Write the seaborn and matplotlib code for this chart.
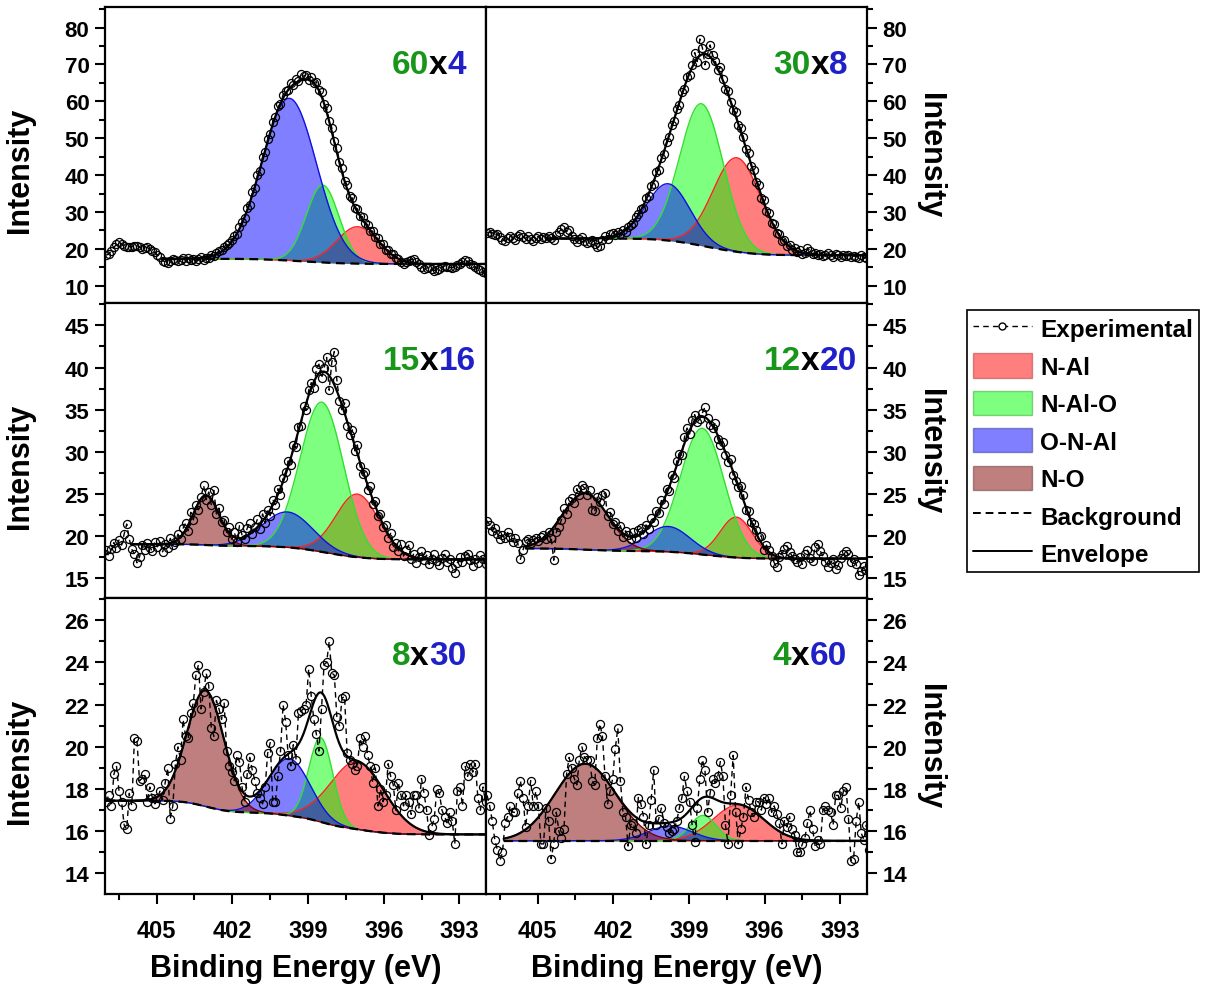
import numpy as np
import matplotlib
matplotlib.use("Agg")
import matplotlib.pyplot as plt
import seaborn as sns
from matplotlib.lines import Line2D
from matplotlib.patches import Patch
from matplotlib.ticker import MultipleLocator
from matplotlib.offsetbox import TextArea, HPacker, AnchoredOffsetbox

# binding energy grid of the scans (eV), high -> low
energy = np.linspace(407.0, 391.86, 150)

# experimental N 1s intensities
exp_60x4 = [
    18.3, 18.6, 19.4, 20.4, 21.2, 21.8, 21.3, 20.8, 20.4, 20.6,
    20.6, 20.8, 20.9, 20.5, 20.0, 20.3, 20.4, 19.9, 19.3, 19.1,
    18.2, 17.7, 16.8, 16.5, 16.3, 16.8, 17.2, 16.9, 16.6, 17.1,
    17.4, 16.8, 17.6, 17.0, 17.2, 16.6, 17.3, 17.9, 17.1, 17.5,
    17.6, 18.4, 18.1, 18.9, 19.4, 19.8, 20.6, 21.1, 21.6, 22.4,
    23.4, 23.9, 25.9, 27.4, 28.3, 31.1, 32.0, 35.3, 36.5, 39.9,
    41.2, 44.9, 46.3, 49.8, 51.1, 54.5, 55.7, 58.6, 59.2, 61.8,
    62.7, 63.1, 64.9, 64.4, 66.0, 65.4, 67.3, 66.8, 67.2, 65.9,
    66.6, 65.1, 65.3, 63.0, 62.4, 59.4, 58.3, 54.6, 52.9, 49.2,
    47.3, 43.6, 41.9, 38.4, 37.4, 34.3, 33.8, 31.2, 30.9, 29.0,
    28.7, 27.0, 26.6, 24.9, 24.8, 23.1, 22.9, 21.4, 21.2, 19.8,
    19.7, 18.5, 18.7, 17.6, 17.3, 16.4, 16.0, 16.5, 16.8, 17.1,
    17.2, 16.5, 15.8, 15.0, 14.5, 14.8, 15.0, 14.6, 14.1, 14.4,
    14.6, 15.0, 15.4, 15.1, 15.0, 14.9, 15.2, 15.6, 15.9, 16.4,
    17.0, 16.6, 15.9, 15.5, 15.0, 14.6, 14.2, 13.8, 13.5, 13.3,
]
exp_30x8 = [
    24.3, 24.6, 24.0, 23.7, 24.1, 23.2, 22.5, 22.1, 22.9, 23.5,
    23.0, 22.4, 23.6, 24.1, 23.3, 22.8, 23.5, 22.6, 22.2, 23.0,
    23.4, 22.6, 23.1, 22.9, 23.6, 23.0, 22.4, 23.8, 24.6, 25.3,
    25.9, 24.7, 25.0, 23.6, 22.8, 21.9, 22.6, 23.2, 22.0, 21.6,
    21.9, 22.5, 21.2, 20.4, 20.9, 22.3, 23.5, 22.7, 23.9, 24.2,
    23.8, 24.6, 23.9, 25.0, 24.7, 26.0, 26.6, 27.0, 28.7, 29.4,
    30.9, 31.2, 33.8, 34.4, 37.0, 37.6, 40.8, 41.5, 44.6, 45.7,
    48.9, 50.2, 53.6, 54.7, 58.0, 59.1, 62.5, 63.4, 66.5, 67.2,
    69.9, 73.2, 70.8, 76.9, 74.5, 69.9, 72.8, 75.3, 72.5, 71.0,
    68.4, 69.3, 66.1, 63.4, 62.9, 59.7, 57.6, 57.1, 53.5, 52.7,
    50.4, 47.0, 45.9, 42.6, 41.5, 38.2, 37.4, 33.9, 33.3, 30.2,
    29.8, 27.1, 26.7, 24.3, 24.1, 22.2, 22.5, 20.8, 21.1, 19.7,
    20.1, 19.2, 19.6, 18.5, 19.0, 20.3, 19.5, 18.7, 18.9, 18.2,
    18.6, 18.1, 18.4, 18.9, 18.3, 17.9, 18.5, 18.2, 17.8, 18.4,
    18.0, 18.3, 17.7, 18.1, 17.9, 17.6, 18.2, 17.8, 17.5, 18.1,
]
exp_15x16 = [
    18.3, 17.6, 18.4, 19.2, 18.6, 19.5, 18.9, 20.2, 21.4, 19.6,
    18.4, 17.8, 16.8, 17.5, 18.9, 18.3, 19.1, 18.6, 18.2, 19.3,
    18.7, 19.4, 18.1, 19.0, 18.6, 19.7, 18.9, 19.3, 20.2, 19.6,
    20.9, 21.5, 20.6, 22.8, 21.9, 23.7, 23.1, 24.6, 26.0, 24.3,
    25.2, 23.7, 25.4, 22.6, 23.3, 21.6, 21.9, 20.4, 21.0, 19.6,
    20.4, 19.3, 21.2, 20.1, 19.6, 20.9, 21.5, 20.2, 21.1, 22.0,
    20.8, 22.6, 21.5, 23.1, 22.4, 24.3, 23.7, 25.6, 24.9, 26.9,
    27.6, 28.9, 28.4, 30.8, 30.5, 32.9, 33.1, 35.4, 34.9, 37.3,
    38.2, 37.6, 39.8, 40.4, 38.7, 39.9, 41.2, 37.3, 40.6, 41.9,
    38.5, 36.0, 34.9, 35.8, 33.1, 32.0, 32.6, 30.1, 30.8, 28.3,
    27.4, 27.6, 25.5, 25.9, 23.8, 24.1, 22.3, 22.6, 21.0, 21.3,
    19.8, 20.3, 18.7, 19.1, 18.2, 19.0, 17.6, 18.3, 18.9, 17.2,
    17.9, 16.8, 17.5, 18.2, 17.1, 17.7, 16.6, 17.3, 17.9, 17.0,
    16.5, 17.4, 17.8, 16.9, 17.2, 16.2, 15.6, 16.8, 17.5, 16.9,
    17.6, 17.9, 17.1, 16.4, 17.3, 16.8, 17.7, 17.2, 16.6, 17.0,
]
exp_12x20 = [
    21.8, 21.3, 20.6, 20.9, 20.2, 19.6, 20.1, 19.8, 20.4, 19.9,
    19.3, 19.7, 19.1, 17.2, 18.3, 19.4, 19.6, 19.1, 19.5, 19.8,
    19.4, 19.9, 20.1, 19.6, 20.5, 19.8, 17.1, 20.4, 21.1, 21.9,
    23.3, 22.6, 24.1, 24.5, 23.9, 25.6, 24.8, 26.0, 25.7, 24.9,
    25.4, 23.1, 22.9, 24.6, 24.0, 24.8, 25.1, 22.3, 22.8, 21.4,
    21.7, 20.6, 21.2, 19.9, 20.6, 20.1, 19.6, 20.4, 19.8, 20.7,
    20.9, 20.2, 21.3, 20.8, 22.1, 21.6, 23.0, 22.7, 24.2, 23.8,
    25.6, 25.3, 27.2, 26.9, 28.9, 29.7, 29.6, 31.7, 32.8, 32.1,
    33.8, 34.4, 33.5, 33.9, 34.6, 35.3, 34.0, 33.2, 32.8, 33.4,
    31.5, 30.8, 31.2, 29.6, 28.8, 29.1, 27.2, 26.5, 25.8, 25.9,
    24.9, 23.1, 23.0, 21.6, 21.4, 20.7, 19.9, 20.0, 18.3, 18.9,
    18.3, 17.6, 16.8, 16.3, 17.5, 17.9, 18.4, 18.8, 18.1, 17.6,
    17.2, 16.9, 17.5, 16.6, 17.8, 18.3, 17.4, 17.0, 18.7, 19.0,
    18.2, 17.6, 16.9, 16.3, 16.8, 17.2, 16.0, 16.5, 17.4, 17.9,
    18.2, 17.8, 16.9, 17.3, 16.6, 15.3, 15.8, 16.4, 15.9, 16.5,
]
exp_8x30 = [
    17.4, 17.7, 17.2, 18.7, 19.1, 17.9, 17.4, 16.3, 16.1, 17.8,
    17.2, 20.4, 20.3, 18.4, 18.5, 18.7, 17.4, 18.1, 17.6, 17.3,
    17.6, 17.9, 17.5, 18.3, 19.0, 16.6, 17.2, 19.2, 20.0, 19.4,
    21.3, 20.5, 20.4, 21.6, 22.1, 23.4, 23.9, 21.8, 22.6, 23.5,
    22.9, 20.9, 20.5, 22.2, 21.8, 21.3, 22.1, 19.8, 19.1, 18.8,
    18.4, 19.6, 19.3, 18.1, 17.4, 18.7, 19.5, 18.9, 18.4, 17.8,
    17.6, 17.3, 18.1, 19.7, 20.2, 17.4, 17.4, 18.6, 19.8, 22.0,
    21.2, 19.6, 19.1, 20.1, 19.4, 21.6, 21.7, 21.8, 22.0, 23.7,
    22.4, 21.3, 20.6, 19.8, 21.8, 23.9, 24.0, 25.0, 23.5, 23.4,
    21.4, 21.0, 22.3, 22.4, 19.7, 19.4, 19.2, 18.9, 19.1, 20.4,
    20.0, 20.5, 19.6, 19.1, 18.3, 19.0, 17.2, 18.0, 17.4, 17.7,
    19.2, 18.6, 18.2, 17.0, 18.3, 17.7, 17.2, 17.7, 17.4, 16.8,
    17.7, 17.7, 17.1, 18.5, 17.8, 17.0, 15.8, 16.2, 16.6, 18.0,
    17.8, 17.0, 16.7, 16.4, 16.9, 16.5, 15.4, 17.9, 18.1, 17.2,
    19.1, 18.6, 19.2, 18.8, 19.2, 17.6, 17.0, 18.1, 17.4, 17.6,
]
exp_4x60 = [
    17.7, 17.2, 16.5, 15.6, 15.1, 14.6, 15.0, 16.4, 16.7, 17.2,
    16.9, 16.9, 17.8, 18.4, 17.6, 16.2, 17.2, 18.4, 17.2, 17.9,
    17.2, 15.4, 15.4, 17.1, 16.5, 14.7, 15.4, 16.9, 16.0, 15.7,
    16.1, 18.7, 19.5, 19.0, 18.5, 18.2, 19.4, 20.0, 19.5, 19.4,
    19.4, 18.4, 18.2, 20.4, 21.1, 20.5, 18.6, 17.3, 17.9, 18.5,
    19.9, 20.9, 18.4, 16.9, 16.7, 15.3, 16.3, 16.4, 15.9, 17.6,
    17.3, 16.7, 15.4, 16.3, 17.5, 18.9, 16.3, 16.6, 17.1, 16.4,
    16.2, 15.9, 16.0, 16.1, 16.5, 17.1, 17.6, 18.6, 17.9, 17.4,
    16.3, 15.5, 17.1, 18.5, 19.4, 18.9, 16.9, 17.8, 18.5, 18.3,
    18.6, 19.3, 18.6, 16.3, 15.4, 17.7, 19.6, 16.9, 15.4, 16.1,
    16.7, 18.1, 17.5, 16.9, 16.7, 17.4, 17.4, 17.0, 17.6, 17.3,
    17.6, 16.9, 17.2, 16.8, 16.4, 15.4, 16.5, 16.2, 16.7, 16.1,
    15.8, 15.0, 15.0, 15.4, 15.7, 16.4, 17.0, 16.1, 15.3, 15.6,
    15.4, 17.0, 17.2, 17.0, 16.9, 16.3, 17.7, 17.7, 17.1, 17.9,
    18.1, 16.6, 14.6, 14.7, 16.5, 17.4, 15.9, 15.6, 16.3, 15.1,
]

samples = ["60x4", "30x8", "15x16", "12x20", "8x30", "4x60"]

# fitted components per sample: centre (eV), FWHM (eV), height above background
n_al_pos = [397.04, 397.10, 397.04, 397.12, 397.04, 397.04]
n_al_fwhm = [1.93, 2.23, 2.03, 1.52, 2.54, 2.34]
n_al_height = [10.0, 25.5, 7.5, 4.8, 3.2, 1.7]

n_al_o_pos = [398.42, 398.50, 398.45, 398.47, 398.49, 398.44]
n_al_o_fwhm = [1.52, 2.03, 2.03, 2.03, 1.12, 1.22]
n_al_o_height = [21.0, 38.5, 17.8, 15.0, 4.0, 1.2]

o_n_al_pos = [399.74, 399.82, 399.81, 399.82, 399.74, 399.75]
o_n_al_fwhm = [2.54, 2.03, 2.34, 2.03, 1.93, 2.03]
o_n_al_height = [44.0, 15.4, 4.2, 3.0, 2.7, 0.7]

n_o_pos = [403.0, 403.0, 403.04, 403.11, 403.06, 403.11]
n_o_fwhm = [1.5, 1.5, 1.22, 2.13, 1.73, 2.84]
n_o_height = [0.0, 0.0, 5.9, 6.7, 5.5, 3.65]

# Shirley background end levels and fit window start (eV)
bg_high = [17.3, 22.8, 19.0, 18.5, 17.45, 15.55]
bg_low = [15.9, 18.3, 17.2, 17.3, 15.85, 15.55]
fit_start = [404.76, 404.66, 405.98, 405.48, 407.0, 406.34]

experimental = [exp_60x4, exp_30x8, exp_15x16, exp_12x20, exp_8x30, exp_4x60]

# styling
sns.set_style("ticks")
plt.rcParams["font.family"] = ["Liberation Sans", "DejaVu Sans"]
plt.rcParams["font.weight"] = "bold"
plt.rcParams["axes.labelweight"] = "bold"
for key in ["text.color", "axes.labelcolor", "xtick.color", "ytick.color", "axes.edgecolor"]:
    plt.rcParams[key] = "black"

comp_style = [
    # label, fill, edge line, legend edge
    ("N-Al", "#ff0000", "#ff2020", "#b03030"),
    ("N-Al-O", "#00ff00", "#30e030", "#30a030"),
    ("O-N-Al", "#0000ff", "#1010e0", "#303090"),
    ("N-O", "#800000", "#800000", "#603030"),
]
comp_params = [
    (n_al_pos, n_al_fwhm, n_al_height),
    (n_al_o_pos, n_al_o_fwhm, n_al_o_height),
    (o_n_al_pos, o_n_al_fwhm, o_n_al_height),
    (n_o_pos, n_o_fwhm, n_o_height),
]

row_ylim = [(5.4, 85.5), (12.6, 47.7), (13.05, 27.05)]
row_major = [10, 5, 2]
row_minor = [5, 2.5, 1]
label_x = [0.948, 0.950, 0.974, 0.974, 0.948, 0.947]
GREEN = "#17961a"
BLUE = "#2020c8"


def gauss(x, c, w, h):
    return h * np.exp(-4 * np.log(2) * (x - c) ** 2 / w ** 2)


fig = plt.figure(figsize=(12.09, 9.87), dpi=100)
gs = fig.add_gridspec(3, 2, left=0.0868, right=0.7169, top=0.9916,
                      bottom=0.0937, wspace=0, hspace=0)

for i, name in enumerate(samples):
    row, col = divmod(i, 2)
    ax = fig.add_subplot(gs[row, col])

    xf = np.linspace(fit_start[i], 391.9, 600)
    comps = []
    for pos, fwhm, height in comp_params:
        comps.append(gauss(xf, pos[i], fwhm[i], height[i]))
    total = np.sum(comps, axis=0)
    cum = np.cumsum(total[::-1])[::-1]
    bg = bg_low[i] + (bg_high[i] - bg_low[i]) * cum / cum[0]

    for (lab, fill, edge, _), comp, (pos, fwhm, height) in zip(comp_style, comps, comp_params):
        if height[i] <= 0:
            continue
        ax.fill_between(xf, bg, bg + comp, color=fill, alpha=0.5, lw=0, zorder=1)
        sns.lineplot(x=xf, y=bg + comp, ax=ax, color=edge, lw=1.0, sort=False,
                     estimator=None, zorder=2)

    sns.lineplot(x=energy, y=experimental[i], ax=ax, color="black", lw=1.0,
                 linestyle=(0, (4, 3)), marker="o", markersize=5.8,
                 markerfacecolor="none", markeredgecolor="black",
                 markeredgewidth=0.9, sort=False, estimator=None, zorder=3)
    sns.lineplot(x=xf, y=bg, ax=ax, color="black", lw=1.6, linestyle=(0, (4, 2.5)),
                 sort=False, estimator=None, zorder=4)
    sns.lineplot(x=xf, y=bg + total, ax=ax, color="black", lw=1.6, sort=False,
                 estimator=None, zorder=5)

    ax.set_xlim(407.05, 391.95)
    ax.set_ylim(*row_ylim[row])
    ax.xaxis.set_major_locator(MultipleLocator(3))
    ax.xaxis.set_minor_locator(MultipleLocator(1.5))
    ax.yaxis.set_major_locator(MultipleLocator(row_major[row]))
    ax.yaxis.set_minor_locator(MultipleLocator(row_minor[row]))

    for sp in ax.spines.values():
        sp.set_visible(True)
        sp.set_linewidth(1.6)
        sp.set_color("black")
    ax.tick_params(which="both", direction="out", width=1.5, labelsize=16,
                   colors="black")
    ax.tick_params(which="major", length=7.2)
    ax.tick_params(which="minor", length=4.3)
    if row == 2:
        ax.tick_params(axis="x", which="both", bottom=True, top=False,
                       labelbottom=True, labelsize=17, pad=11)
        ax.set_xlabel("Binding Energy (eV)", fontsize=22, labelpad=8)
    else:
        ax.tick_params(axis="x", which="both", bottom=False, top=False,
                       labelbottom=False)
        ax.set_xlabel("")
    if col == 0:
        ax.tick_params(axis="y", which="both", left=True, right=False,
                       labelleft=True, labelright=False, pad=4)
        ax.set_ylabel("Intensity", fontsize=22)
        ax.yaxis.set_label_coords(-0.183, 0.45)
    else:
        ax.tick_params(axis="y", which="both", left=False, right=True,
                       labelleft=False, labelright=True, pad=4)
        ax.yaxis.set_label_position("right")
        ax.set_ylabel("Intensity", fontsize=22, rotation=270, va="bottom")
        ax.yaxis.set_label_coords(1.127, 0.5)

    first, second = name.split("x")
    parts = [TextArea(first, textprops=dict(color=GREEN, fontsize=24, fontweight="bold")),
             TextArea("x", textprops=dict(color="black", fontsize=24, fontweight="bold")),
             TextArea(second, textprops=dict(color=BLUE, fontsize=24, fontweight="bold"))]
    box = HPacker(children=parts, align="baseline", pad=0, sep=0)
    anchored = AnchoredOffsetbox(loc="center right", child=box, pad=0, borderpad=0,
                                 frameon=False, bbox_to_anchor=(label_x[i], 0.805),
                                 bbox_transform=ax.transAxes)
    ax.add_artist(anchored)

handles = [Line2D([], [], color="black", lw=1.0, linestyle=(0, (4, 3)), marker="o",
                  markersize=5, markerfacecolor="white", markeredgecolor="black")]
for lab, fill, edge, legend_edge in comp_style:
    handles.append(Patch(facecolor=fill, alpha=0.5, edgecolor=legend_edge, lw=1.0))
handles.append(Line2D([], [], color="black", lw=1.4, linestyle=(0, (4, 2.5))))
handles.append(Line2D([], [], color="black", lw=1.4))
labels = ["Experimental"] + [s[0] for s in comp_style] + ["Background", "Envelope"]

leg = fig.legend(handles, labels, loc="upper left", bbox_to_anchor=(0.800, 0.685),
                 frameon=True, fancybox=False, edgecolor="black", framealpha=1,
                 fontsize=17.5, handlelength=2.4, handleheight=1.15, labelspacing=0.5,
                 handletextpad=0.35, borderpad=0.25, borderaxespad=0, numpoints=1)
leg.get_frame().set_linewidth(1.2)

fig.savefig("out.png", dpi=100)
